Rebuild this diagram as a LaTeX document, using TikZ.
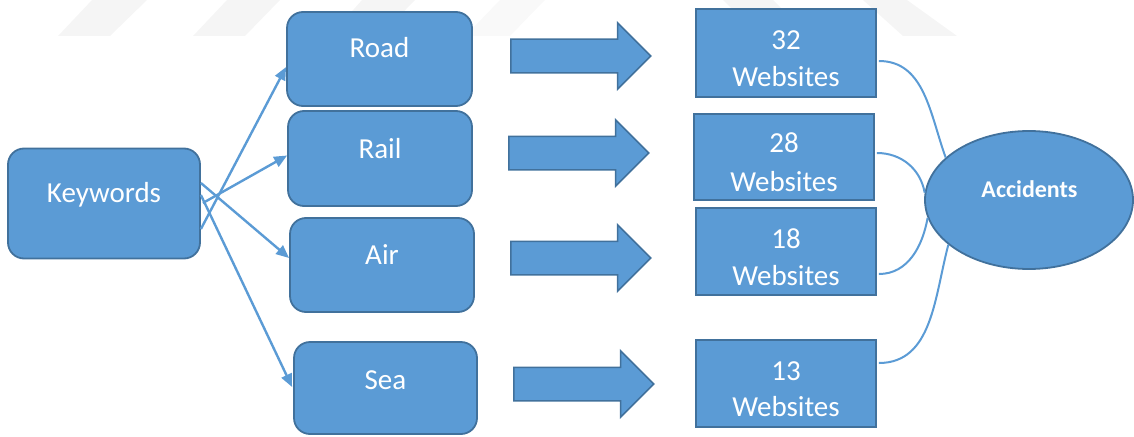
\documentclass[tikz,border=0pt]{standalone}
\usepackage{fontspec}
\setmainfont{Carlito}
\usetikzlibrary{shapes.geometric,shapes.arrows,arrows.meta,calc}
\definecolor{boxblue}{HTML}{5B9BD5}
\definecolor{boxedge}{HTML}{41719C}

\begin{document}
\begin{tikzpicture}[x=1pt,y=-1pt]
  \tikzset{
    mode/.style={draw=boxedge,line width=1.8pt,fill=boxblue,rounded corners=16pt,inner sep=0pt},
    site/.style={draw=boxedge,line width=1.8pt,fill=boxblue,inner sep=0pt,minimum width=180pt},
    fat arrow/.style={single arrow,draw=boxedge,line width=1.5pt,fill=boxblue,inner sep=16pt,
      single arrow head extend=16.5pt,minimum height=140pt,anchor=tail},
    lbl/.style={text=white,font=\fontsize{29}{37}\selectfont,anchor=base,inner sep=0pt},
    feed/.style={draw=boxblue,line width=2.4pt,-{Triangle[length=13pt,width=11pt]}},
    link/.style={draw=boxblue,line width=2pt}
  }
  \useasboundingbox (0,0) rectangle (1134,436);

  % faint stripes along the top edge
  \fill[gray!8] (58,36) -- (110,36) -- (147,0) -- (92,0) -- cycle;
  \fill[gray!8] (193,36) -- (245,36) -- (280,0) -- (227,0) -- cycle;
  \fill[gray!8] (330,36) -- (380,36) -- (415,0) -- (362,0) -- cycle;
  \fill[gray!5] (465,36) -- (510,36) -- (545,0) -- (500,0) -- cycle;
  \fill[gray!8] (723,0) -- (773,0) -- (810,36) -- (760,36) -- cycle;
  \fill[gray!8] (863,0) -- (907,0) -- (957,36) -- (903,36) -- cycle;

  % keyword box and the four modes
  \node[mode,minimum width=192pt,minimum height=110pt] (kw) at (104,203.5) {};
  \node[lbl] (kwtext) at (104,202) {Keywords};
  \node[mode,minimum width=185pt,minimum height=94pt] (road) at (379.5,59) {};
  \node[lbl] (roadtext) at (379.5,57.5) {Road};
  \node[mode,minimum width=184pt,minimum height=95pt] (rail) at (380,158.5) {};
  \node[lbl] (railtext) at (380,158) {Rail};
  \node[mode,minimum width=184pt,minimum height=94pt] (air) at (382,265) {};
  \node[lbl] (airtext) at (382,264.5) {Air};
  \node[mode,minimum width=183pt,minimum height=92pt] (sea) at (385.5,388) {};
  \node[lbl] (seatext) at (385.5,389) {Sea};

  \draw[feed] ($(kw.east)+(0,25.5)$) -- ($(road.west)+(0,8)$);
  \draw[feed] ($(kw.east)+(2,-0.5)$) -- ($(rail.west)+(0,-3)$);
  \draw[feed] ($(kw.east)+(0,-20.5)$) -- ($(air.west)+(0,-7)$);
  \draw[feed] ($(kw.east)+(0,-8.5)$) -- ($(sea.west)+(-1,-1)$);

  % block arrows
  \node[fat arrow] (go1) at (510,56) {};
  \node[fat arrow] (go2) at (508,153) {};
  \node[fat arrow] (go3) at (510,258) {};
  \node[fat arrow] (go4) at (513,384) {};

  % website counts
  \node[site,minimum height=88pt] (web32) at (786,53) {};
  \node[lbl] (num32) at (786,49) {32};
  \node[lbl] (txt32) at (786,86) {Websites};
  \node[site,minimum height=86pt] (web28) at (784,157) {};
  \node[lbl] (num28) at (784,152) {28};
  \node[lbl] (txt28) at (784,191) {Websites};
  \node[site,minimum height=87pt] (web18) at (786,251.5) {};
  \node[lbl] (num18) at (786,248) {18};
  \node[lbl] (txt18) at (786,285) {Websites};
  \node[site,minimum height=87pt] (web13) at (786,383.5) {};
  \node[lbl] (num13) at (786,380) {13};
  \node[lbl] (txt13) at (786,416) {Websites};

  \node[ellipse,draw=boxedge,line width=1.8pt,fill=boxblue,minimum width=208pt,
    minimum height=138pt,inner sep=0pt] (acc) at (1029,200) {};
  \node[lbl,font=\bfseries\fontsize{24}{28}\selectfont] (acctext) at (1029.5,197) {Accidents};

  \draw[link] ($(web32.east)+(2,8)$) to[out=0,in=110] (acc.153);
  \draw[link] ($(web28.east)+(2,-4)$) to[out=0,in=100] (acc.176);
  \draw[link] ($(web18.east)+(2,22.5)$) to[out=0,in=-100] (acc.190);
  \draw[link] ($(web13.east)+(2,-20.5)$) to[out=0,in=-105] (acc.209);
\end{tikzpicture}
\end{document}
